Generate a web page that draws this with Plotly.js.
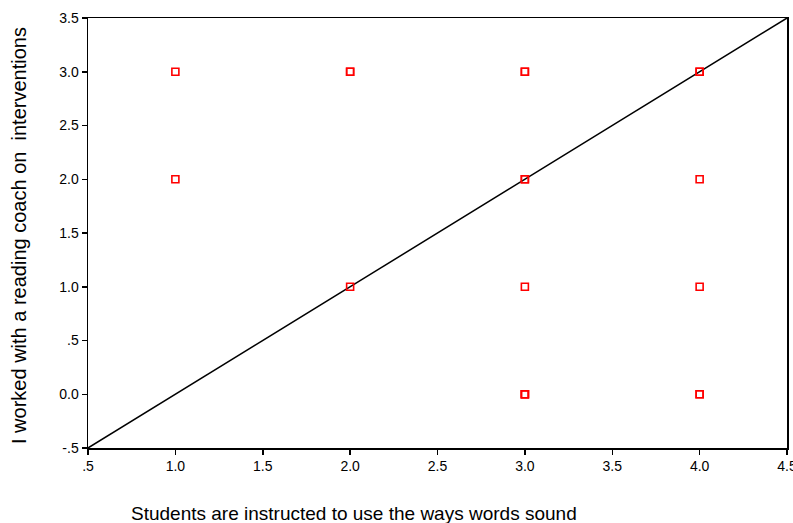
<!DOCTYPE html>
<html><head><meta charset="utf-8">
<script src="https://cdn.plot.ly/plotly-3.0.1.min.js"></script>
<style>html,body{margin:0;padding:0;background:#fff}#chart{width:793px;height:523px}</style>
</head><body><div id="chart"></div>
<script>
const xVals = [1, 1, 2, 2, 2, 3, 3, 3, 3, 3, 3, 3, 3, 4, 4, 4, 4, 4, 4];
const yVals = [3, 2, 3, 3, 1, 3, 3, 2, 2, 1, 0, 0, 0, 3, 3, 2, 1, 0, 0];
const lineX = [0.5, 4.5];
const lineY = [-0.5, 3.5];
const xTickVals = [0.5, 1, 1.5, 2, 2.5, 3, 3.5, 4, 4.5];
const xTickText = [".5", "1.0", "1.5", "2.0", "2.5", "3.0", "3.5", "4.0", "4.5"];
const yTickVals = [-0.5, 0, 0.5, 1, 1.5, 2, 2.5, 3, 3.5];
const yTickText = ["-.5", "0.0", ".5", "1.0", "1.5", "2.0", "2.5", "3.0", "3.5"];
const xTitle = "Students are instructed to use the ways words sound";
const yTitle = "I worked with a reading coach on  interventions";

const font = {family: "Arial, 'Liberation Sans', sans-serif", color: "#000"};
const data = [
  {x: lineX, y: lineY, type: "scatter", mode: "lines", line: {color: "#000", width: 1.5}, hoverinfo: "skip"},
  {x: xVals, y: yVals, type: "scatter", mode: "markers",
   marker: {symbol: "square-open", size: 7, color: "#ff0000", line: {color: "#ff0000", width: 1.6}}}
];
const layout = {
  width: 793, height: 523,
  margin: {l: 88, r: 6, t: 18, b: 75},
  paper_bgcolor: "#fff", plot_bgcolor: "#fff",
  showlegend: false,
  font: Object.assign({size: 14}, font),
  xaxis: {range: [0.5, 4.5], tickvals: xTickVals, ticktext: xTickText, ticks: "outside", ticklen: 5,
          tickcolor: "#000", tickwidth: 1.5, showgrid: false, zeroline: false, showline: true, linecolor: "#000", linewidth: 1.5,
          mirror: true, ticklabeloverflow: "allow", tickfont: Object.assign({size: 14}, font)},
  yaxis: {range: [-0.5, 3.5], tickvals: yTickVals, ticktext: yTickText, ticks: "outside", ticklen: 5,
          tickcolor: "#000", tickwidth: 1.5, showgrid: false, zeroline: false, showline: true, linecolor: "#000", linewidth: 1.5,
          mirror: true, ticklabeloverflow: "allow", tickfont: Object.assign({size: 14}, font)},
  annotations: [
    {text: xTitle, xref: "paper", yref: "paper", x: (354 - 88) / 699, y: -(513 - 448) / 430,
     xanchor: "center", yanchor: "middle", showarrow: false, font: Object.assign({size: 19}, font)},
    {text: yTitle, xref: "paper", yref: "paper", x: -(88 - 19) / 699, y: (448 - 236) / 430,
     xanchor: "center", yanchor: "middle", textangle: -90, showarrow: false, font: Object.assign({size: 20}, font)}
  ]
};
Plotly.newPlot("chart", data, layout, {displayModeBar: false, staticPlot: true});
</script></body></html>
